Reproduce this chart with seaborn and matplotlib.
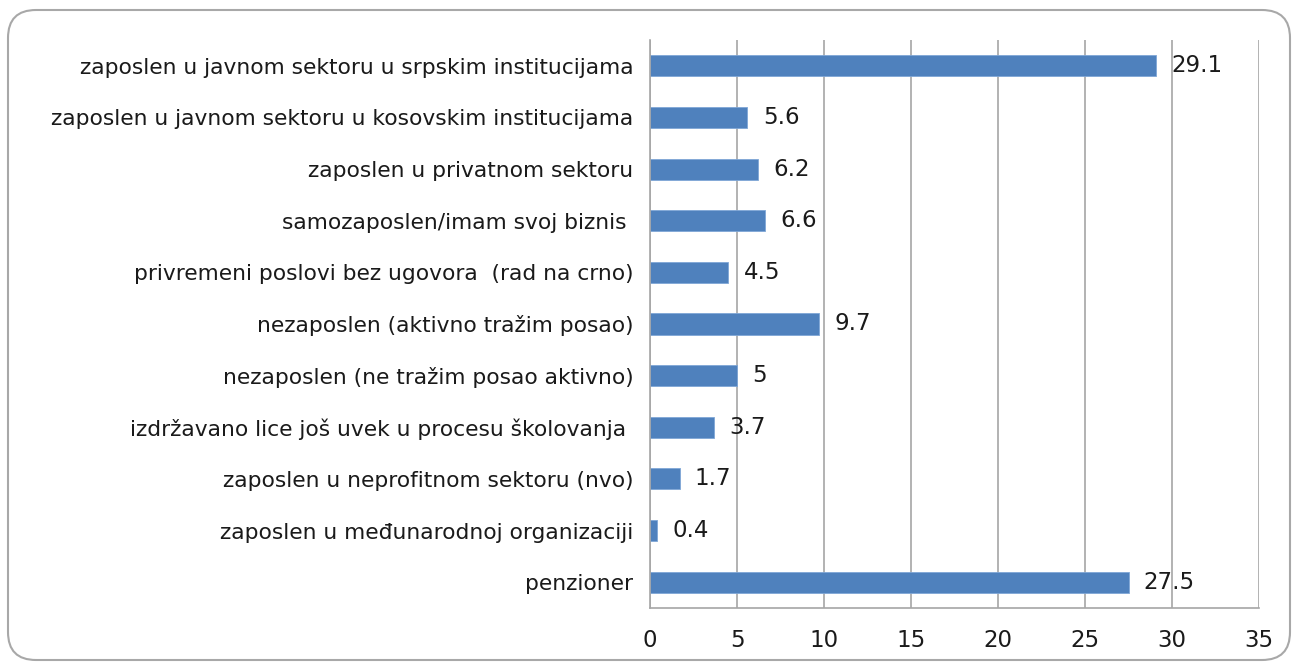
import matplotlib
matplotlib.use("Agg")
import matplotlib.pyplot as plt
import seaborn as sns
import pandas as pd
import numpy as np
from matplotlib.patches import FancyBboxPatch
from matplotlib.transforms import IdentityTransform

categories = [
    "zaposlen u javnom sektoru u srpskim institucijama",
    "zaposlen u javnom sektoru u kosovskim institucijama",
    "zaposlen u privatnom sektoru",
    "samozaposlen/imam svoj biznis ",
    "privremeni poslovi bez ugovora  (rad na crno)",
    "nezaposlen (aktivno tražim posao)",
    "nezaposlen (ne tražim posao aktivno)",
    "izdržavano lice još uvek u procesu školovanja ",
    "zaposlen u neprofitnom sektoru (nvo)",
    "zaposlen u međunarodnoj organizaciji",
    "penzioner",
]
values = [29.1, 5.6, 6.2, 6.6, 4.5, 9.7, 5, 3.7, 1.7, 0.4, 27.5]
value_labels = ["29.1", "5.6", "6.2", "6.6", "4.5", "9.7", "5", "3.7", "1.7", "0.4", "27.5"]
x_ticks = [0, 5, 10, 15, 20, 25, 30, 35]

sns.set_theme(style="white")
plt.rcParams["font.family"] = ["DejaVu Sans"]

df = pd.DataFrame({"cat": categories, "val": values})

fig = plt.figure(figsize=(12.94, 6.69), dpi=100)
ax = fig.add_axes([650/1294, 1 - 608/669, (1259-650)/1294, (608-40)/669])

sns.barplot(data=df, y="cat", x="val", orient="h", color="#4F81BD",
            width=0.41, ax=ax, saturation=1, edgecolor="#7FA6D6", linewidth=0.6)

ax.set_xlim(0, 35)
ax.set_ylim(len(categories) - 0.5, -0.5)
ax.set_xticks(x_ticks)
ax.set_xticklabels([str(t) for t in x_ticks], fontsize=16.5, color="#1a1a1a")
ax.set_xlabel("")
ax.set_ylabel("")
ax.set_yticks(range(len(categories)))

# fit label font so the longest label spans about 582 px like the reference
fs = 14.0
r = fig.canvas.get_renderer()
t = fig.text(0, 0, categories[1], fontsize=fs)
w = t.get_window_extent(renderer=r).width
t.remove()
fs = fs * 582 / w

ax.set_yticklabels(categories, fontsize=fs, color="#1a1a1a")
ax.tick_params(axis="y", which="major", length=0, pad=12)
ax.set_yticks(np.arange(-0.5, len(categories), 1.0), minor=True)
ax.tick_params(axis="y", which="minor", length=5, color="#a6a6a6", width=1.2)
ax.tick_params(axis="x", which="major", length=5, color="#a6a6a6", width=1.2, pad=10)

ax.grid(axis="x", color="#a6a6a6", linewidth=1.2)
ax.set_axisbelow(True)
for s in ["top", "right"]:
    ax.spines[s].set_visible(False)
for s in ["left", "bottom"]:
    ax.spines[s].set_color("#a6a6a6")
    ax.spines[s].set_linewidth(1.2)

for cont in ax.containers:
    ax.bar_label(cont, labels=value_labels, padding=11, fontsize=16.5, color="#1a1a1a")

# rounded frame in pixel coordinates (origin bottom-left)
border = FancyBboxPatch((8, 669 - 660), 1290 - 8, 660 - 10,
                        boxstyle="round,pad=0,rounding_size=28",
                        transform=IdentityTransform(), facecolor="none",
                        edgecolor="#a8a8a8", linewidth=1.5)
fig.patches.append(border)

fig.savefig("out.png", dpi=100, facecolor="white")
